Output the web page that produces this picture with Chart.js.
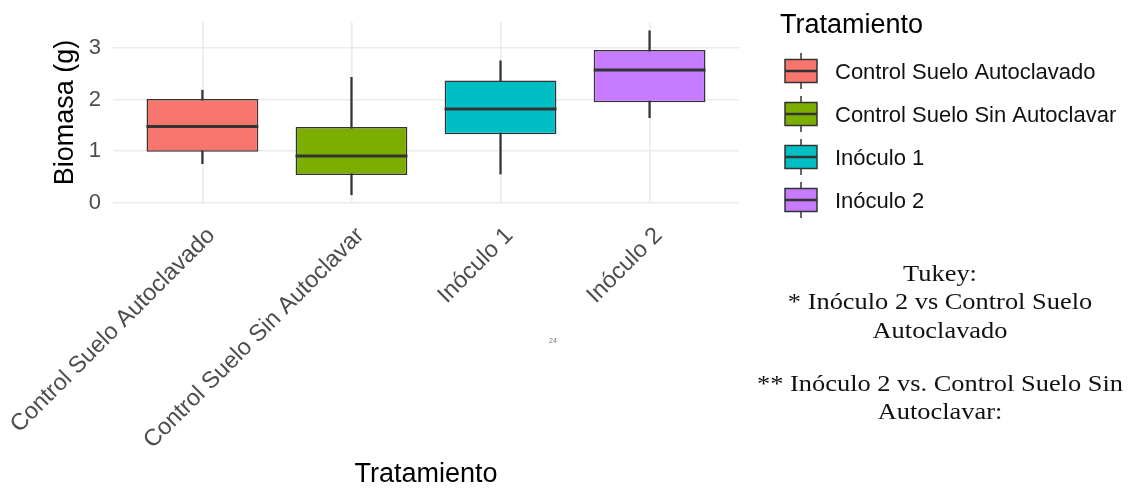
<!DOCTYPE html>
<html>
<head>
<meta charset="utf-8">
<script src="https://cdn.jsdelivr.net/npm/chart.js@4.4.1/dist/chart.umd.min.js"></script>
<style>
  body { margin: 0; background: #fff; }
  #wrap { position: relative; width: 1130px; height: 488px; }
  #tukey {
    position: absolute; left: 740px; top: 259px; width: 400px;
    text-align: center; color: #111;
    font-family: "Liberation Serif", "Times New Roman", serif;
    font-size: 24px; line-height: 28.3px;
    transform: scaleX(1.1);
  }
  #tukey p { margin: 0; }
  #tukey p + p { margin-top: 25px; }
  #page { position: absolute; left: 549px; top: 337px; font: 7px "Liberation Sans", Arial, sans-serif; color: #777; }
</style>
</head>
<body>
<div id="wrap">
  <canvas id="chart" width="1130" height="488"></canvas>
  <div id="tukey">
    <p>Tukey:<br>* Inóculo 2 vs Control Suelo<br>Autoclavado</p>
    <p>** Inóculo 2 vs. Control Suelo Sin<br>Autoclavar:</p>
  </div>
  <div id="page">24</div>
</div>
<script>
// boxplot stats
const categories = ["Control Suelo Autoclavado", "Control Suelo Sin Autoclavar", "Inóculo 1", "Inóculo 2"];
const whiskerLow = [0.76, 0.16, 0.56, 1.65];
const q1 = [0.99, 0.54, 1.33, 1.95];
const median = [1.48, 0.91, 1.82, 2.57];
const q3 = [2.01, 1.47, 2.37, 2.96];
const whiskerHigh = [2.18, 2.43, 2.75, 3.33];
const yTicks = [0, 1, 2, 3];

const fills = ["#F8766D", "#7CAE00", "#00BFC4", "#C77CFF"];
const ink = "#333333";
const sans = '"Liberation Sans", Arial, sans-serif';

Chart.defaults.font.family = sans;

// thick median line across each box
const medianPlugin = {
  id: "medians",
  afterDatasetsDraw(chart) {
    const ctx = chart.ctx;
    const y = chart.scales.y;
    ctx.save();
    ctx.strokeStyle = ink;
    ctx.lineWidth = 3;
    chart.getDatasetMeta(0).data.forEach((bar, i) => {
      const py = y.getPixelForValue(median[i]);
      ctx.beginPath();
      ctx.moveTo(bar.x - bar.width / 2, py);
      ctx.lineTo(bar.x + bar.width / 2, py);
      ctx.stroke();
    });
    ctx.restore();
  }
};

// ggplot style legend with boxplot keys
const legendPlugin = {
  id: "boxLegend",
  afterDraw(chart) {
    const ctx = chart.ctx;
    ctx.save();
    ctx.fillStyle = "#000";
    ctx.font = "27px " + sans;
    ctx.textBaseline = "alphabetic";
    ctx.fillText("Tratamiento", 780, 33);
    ctx.font = "22px " + sans;
    ctx.textBaseline = "middle";
    categories.forEach((name, i) => {
      const cy = 71 + i * 43;
      ctx.strokeStyle = ink;
      ctx.lineWidth = 1.5;
      ctx.beginPath();
      ctx.moveTo(801, cy - 18);
      ctx.lineTo(801, cy + 18);
      ctx.stroke();
      ctx.fillStyle = fills[i];
      ctx.fillRect(785, cy - 11.5, 32, 23);
      ctx.strokeRect(785, cy - 11.5, 32, 23);
      ctx.lineWidth = 2.5;
      ctx.beginPath();
      ctx.moveTo(785, cy);
      ctx.lineTo(817, cy);
      ctx.stroke();
      ctx.fillStyle = "#111";
      ctx.fillText(name, 835, cy + 1.5);
    });
    ctx.restore();
  }
};

const boxes = categories.map((c, i) => ({ x: i + 1, y: [q1[i], q3[i]] }));
const whiskers = categories.map((c, i) => ({ x: i + 1, y: [whiskerLow[i], whiskerHigh[i]] }));

new Chart(document.getElementById("chart"), {
  type: "bar",
  data: {
    datasets: [
      {
        label: "caja",
        data: boxes,
        backgroundColor: fills,
        borderColor: ink,
        borderWidth: 1.5,
        borderSkipped: false,
        barPercentage: 0.75,
        categoryPercentage: 1
      },
      {
        label: "bigotes",
        data: whiskers,
        backgroundColor: ink,
        borderWidth: 0,
        barThickness: 1.6
      }
    ]
  },
  options: {
    responsive: false,
    animation: false,
    grouped: false,
    layout: { padding: { top: 22, left: 50, right: 391, bottom: 0 } },
    plugins: {
      legend: { display: false },
      tooltip: { enabled: false }
    },
    scales: {
      x: {
        type: "linear",
        min: 0.4,
        max: 4.6,
        offset: false,
        afterBuildTicks: s => { s.ticks = categories.map((c, i) => ({ value: i + 1 })); },
        afterFit: s => { s.height = 285; s.paddingLeft = 0; s.paddingRight = 0; },
        grid: { color: "#EBEBEB", lineWidth: 1.6, drawTicks: false, offset: false },
        border: { display: false },
        ticks: {
          autoSkip: false,
          minRotation: 45,
          maxRotation: 45,
          padding: 19,
          labelOffset: 9,
          color: "#4D4D4D",
          font: { size: 23.5 },
          callback: v => categories[v - 1]
        },
        title: {
          display: true,
          text: "Tratamiento",
          color: "#000",
          font: { size: 27, lineHeight: 1 },
          padding: 0
        }
      },
      y: {
        min: 0,
        max: 3.5,
        afterBuildTicks: s => {
          const t = [];
          for (let v = 0; v <= 3.5; v += 0.5) t.push({ value: v });
          s.ticks = t;
        },
        afterFit: s => { s.width = 63; s.paddingTop = 0; s.paddingBottom = 0; },
        grid: {
          color: "#EBEBEB",
          drawTicks: false,
          lineWidth: c => (Number.isInteger(c.tick.value) ? 1.6 : 1.1)
        },
        border: { display: false },
        ticks: {
          padding: 12,
          color: "#4D4D4D",
          font: { size: 22 },
          callback: v => (yTicks.includes(v) ? String(v) : "")
        },
        title: {
          display: true,
          text: "Biomasa (g)",
          color: "#000",
          font: { size: 27, lineHeight: 1 },
          padding: { top: 2, bottom: 0 }
        }
      }
    }
  },
  plugins: [medianPlugin, legendPlugin]
});
</script>
</body>
</html>
